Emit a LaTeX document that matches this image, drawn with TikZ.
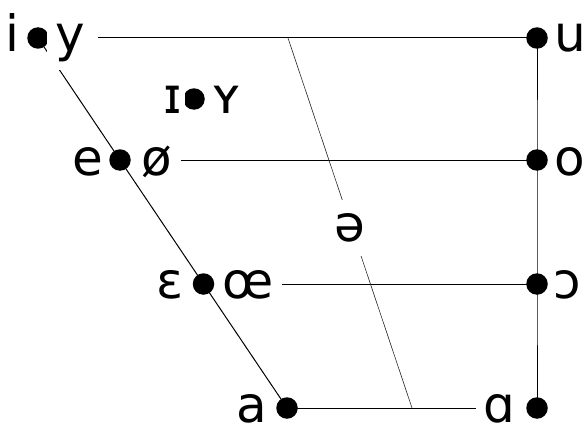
\documentclass[tikz,border=0pt]{standalone}
\usepackage{fontspec}
\setmainfont{DejaVu Sans}
\usetikzlibrary{backgrounds}
\begin{document}
\begin{tikzpicture}[x=1pt,y=-1pt,
  lab/.style={anchor=base,fill=white,inner sep=3pt,font=\fontsize{50}{60}\selectfont},
  vdot/.style={circle,fill=black,inner sep=0pt,minimum size=21.5pt},
  edge/.style={line width=1pt},
  cline/.style={line width=0.6pt,black!85}]
\useasboundingbox (0,0) rectangle (586,428);
% dots
\node[vdot] (idot) at (38,38) {};
\node[vdot] (udot) at (537,38) {};
\node[vdot] (edot) at (120,160) {};
\node[vdot] (odot) at (537,160) {};
\node[vdot] (eodot) at (203.5,284) {};
\node[vdot] (oodot) at (537,284) {};
\node[vdot] (adot) at (287,408) {};
\node[vdot] (aadot) at (537,408) {};
\node[vdot] (nfdot) at (194,99) {};
\coordinate (ct) at (288,38);
\coordinate (cb) at (412,408);
% labels
\node[lab] (li) at (12,52) {i};
\node[lab,inner sep=8pt] (ly) at (70,52) {y};
\node[lab] (lI) at (173,113) {ɪ};
\node[lab] (lY) at (227,113) {ʏ};
\node[lab] (le) at (88,175) {e};
\node[lab] (loe) at (157,175) {ø};
\node[lab] (leps) at (170,298) {ɛ};
\node[lab] (loel) at (248,298) {œ};
\node[lab,inner sep=1pt] (la) at (252,422) {a};
\node[lab,inner sep=1pt] (laa) at (499,422) {ɑ};
\node[lab] (lu) at (570,52) {u};
\node[lab] (lo) at (570,175) {o};
\node[lab] (loo) at (567,298) {ɔ};
\node[lab,inner sep=13.5pt] (lschwa) at (350,241.5) {ə};
\begin{pgfonlayer}{background}
\draw[edge] (idot.center) -- (edot.center) -- (eodot.center) -- (adot.center);
\draw[edge] (udot.center) -- (odot.center) -- (oodot.center) -- (aadot.center);
\draw[edge,shorten <=5pt] (udot.center -| ly.east) -- (udot.center);
\draw[edge,shorten <=6pt] (odot.center -| loe.east) -- (odot.center);
\draw[edge,shorten <=5pt] (oodot.center -| loel.east) -- (oodot.center);
\draw[edge,shorten >=6pt] (adot.center) -- (adot.center -| laa.west);
\draw[cline] (ct) -- (cb);
\end{pgfonlayer}
\end{tikzpicture}
\end{document}
